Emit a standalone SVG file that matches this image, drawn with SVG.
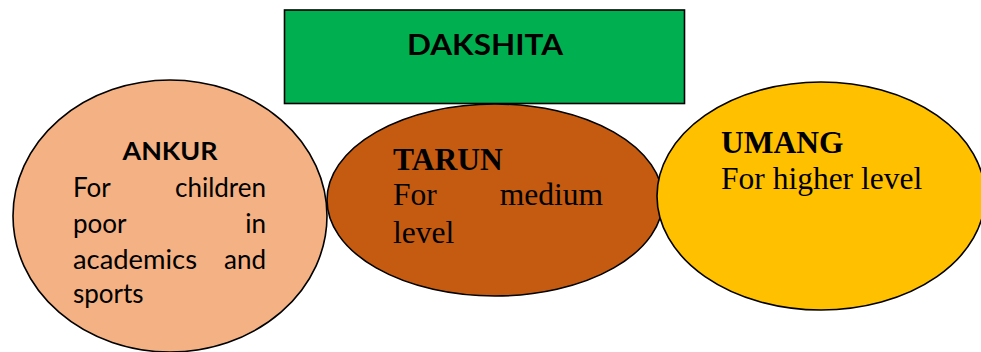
<svg xmlns="http://www.w3.org/2000/svg" width="981" height="352" viewBox="0 0 981 352">
  <style>
    .shape { stroke: #000; stroke-width: 1.6; }
    .sans { font-family: Lato, "Open Sans", "Liberation Sans", sans-serif; fill: #000; }
    .serif { font-family: "Liberation Serif", "Times New Roman", serif; fill: #000; font-size: 31.5px; }
    .b { font-weight: bold; }
  </style>
  <rect width="981" height="352" fill="#fff"/>

  <g id="dakshita">
    <rect class="shape" x="284.5" y="10" width="400" height="93.5" fill="#00B050"/>
    <text class="sans b" x="485" y="55" font-size="28" text-anchor="middle" textLength="156" lengthAdjust="spacingAndGlyphs">DAKSHITA</text>
  </g>

  <g id="ankur">
    <ellipse class="shape" cx="170" cy="216" rx="157" ry="136" fill="#F4B183"/>
    <text class="sans b" x="170" y="160" font-size="24" text-anchor="middle" textLength="95" lengthAdjust="spacingAndGlyphs">ANKUR</text>
    <g class="sans" font-size="26">
      <text x="73" y="197">For</text>
      <text x="266" y="197" text-anchor="end">children</text>
      <text x="73" y="233">poor</text>
      <text x="266" y="233" text-anchor="end">in</text>
      <text x="73" y="269" textLength="124" lengthAdjust="spacingAndGlyphs">academics</text>
      <text x="266" y="269" text-anchor="end">and</text>
      <text x="73" y="303">sports</text>
    </g>
  </g>

  <g id="tarun">
    <ellipse class="shape" cx="495" cy="200" rx="168" ry="96" fill="#C55A11"/>
    <text class="serif b" x="393" y="170">TARUN</text>
    <text class="serif" x="393" y="205">For</text>
    <text class="serif" x="603" y="205" text-anchor="end">medium</text>
    <text class="serif" x="393" y="243">level</text>
  </g>

  <g id="umang">
    <ellipse class="shape" cx="821" cy="196" rx="164" ry="114" fill="#FFC000"/>
    <text class="serif b" x="721" y="153">UMANG</text>
    <text class="serif" x="721" y="189">For higher level</text>
  </g>

  <g id="connectors"></g>
</svg>
